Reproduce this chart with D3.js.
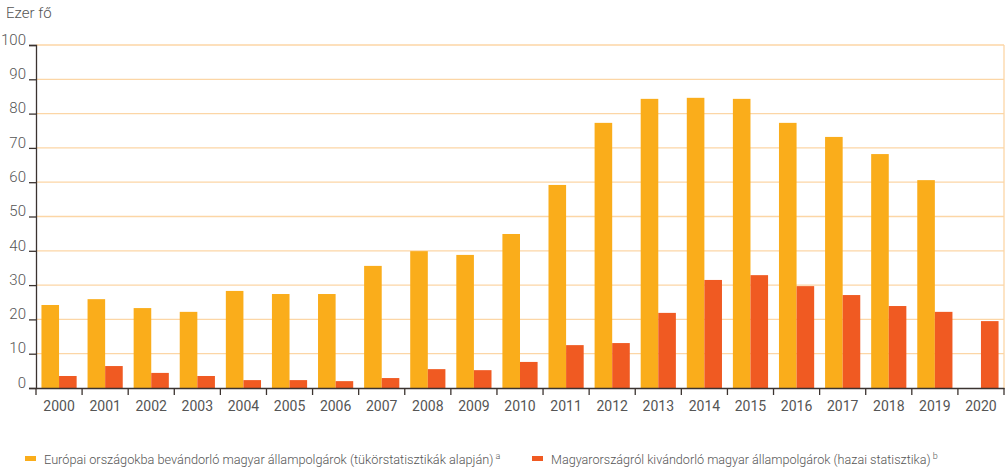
<!DOCTYPE html>
<html>
<head>
<meta charset="utf-8">
<script src="https://cdn.jsdelivr.net/npm/d3@7"></script>
<style>
  body { margin: 0; background: #fff; }
  svg text { font-family: Roboto, "DejaVu Sans Condensed", sans-serif; fill: #555; }
</style>
</head>
<body>
<svg id="chart" width="1006" height="470"></svg>
<script>
// years on the x axis
const years = ["2000","2001","2002","2003","2004","2005","2006","2007","2008","2009","2010",
               "2011","2012","2013","2014","2015","2016","2017","2018","2019","2020"];
// orange: mirror statistics (thousand people)
const europeIn = [24.2, 25.9, 23.3, 22.2, 28.3, 27.4, 27.4, 35.6, 39.9, 38.8, 44.9,
                  59.2, 77.3, 84.3, 84.6, 84.3, 77.3, 73.2, 68.2, 60.6, null];
// red: domestic statistics
const hungaryOut = [3.5, 6.4, 4.4, 3.5, 2.3, 2.3, 2.0, 2.9, 5.5, 5.2, 7.6,
                    12.5, 13.1, 21.9, 31.5, 32.9, 29.7, 27.1, 23.9, 22.2, 19.5];
const yTicks = [0, 10, 20, 30, 40, 50, 60, 70, 80, 90, 100];
const seriesNames = ["Európai országokba bevándorló magyar állampolgárok (tükörstatisztikák alapján)",
                     "Magyarországról kivándorló magyar állampolgárok (hazai statisztika)"];
const seriesNotes = ["a", "b"];
const colors = ["#faad1b", "#f05a22"];

const svg = d3.select("#chart");
const margin = {left: 36, right: 1004, top: 45, bottom: 388};

let x = d3.scaleBand().domain(years).range([margin.left, margin.right]).padding(0);
let inner = d3.scaleBand().domain([0, 1]).range([0, x.bandwidth()])
    .paddingInner(0).paddingOuter(0.31);
let y = d3.scaleLinear().domain([0, 100]).range([margin.bottom, margin.top]);

// gridlines
svg.append("g").selectAll("line")
    .data(yTicks.filter(d => d > 0))
    .enter().append("line")
    .attr("x1", margin.left).attr("x2", margin.right)
    .attr("y1", d => y(d)).attr("y2", d => y(d))
    .attr("stroke", "#fcd6a6").attr("stroke-width", 1.3);

// right border
svg.append("line")
    .attr("x1", margin.right).attr("x2", margin.right)
    .attr("y1", y(100)).attr("y2", y(0))
    .attr("stroke", "#fcd6a6").attr("stroke-width", 1.3);

// bars
let groups = svg.append("g").selectAll("g")
    .data(years)
    .enter().append("g")
    .attr("transform", d => "translate(" + x(d) + ",0)");

groups.append("rect")
    .attr("x", inner(0))
    .attr("width", inner.bandwidth())
    .attr("y", (d, i) => europeIn[i] == null ? y(0) : y(europeIn[i]))
    .attr("height", (d, i) => europeIn[i] == null ? 0 : y(0) - y(europeIn[i]))
    .attr("fill", colors[0]);

groups.append("rect")
    .attr("x", inner(1))
    .attr("width", inner.bandwidth())
    .attr("y", (d, i) => y(hungaryOut[i]))
    .attr("height", (d, i) => y(0) - y(hungaryOut[i]))
    .attr("fill", colors[1]);

// y axis
let yAxis = svg.append("g")
    .attr("transform", "translate(" + margin.left + ",0)")
    .call(d3.axisLeft(y).tickValues(yTicks).tickSize(7).tickPadding(3));
yAxis.select(".domain").attr("stroke", "#3b3330").attr("stroke-width", 1.3);
yAxis.selectAll(".tick line").attr("stroke", "#3b3330").attr("stroke-width", 1.3);
yAxis.selectAll(".tick text")
    .attr("dy", "-0.05em")
    .style("font-family", "Roboto").style("font-weight", 300)
    .style("font-size", "15px").style("fill", "#555");

// x axis: labels centred, ticks on band boundaries
let xAxis = svg.append("g")
    .attr("transform", "translate(0," + margin.bottom + ")")
    .call(d3.axisBottom(x).tickSize(0).tickPadding(13));
xAxis.select(".domain").attr("stroke", "#3b3330").attr("stroke-width", 1.5);
xAxis.selectAll(".tick text")
    .style("font-family", "Roboto")
    .style("font-size", "14px").style("fill", "#555");
xAxis.selectAll(".sep")
    .data(years.concat(["end"]))
    .enter().append("line")
    .attr("x1", d => d == "end" ? margin.right : x(d))
    .attr("x2", d => d == "end" ? margin.right : x(d))
    .attr("y1", 0).attr("y2", 7)
    .attr("stroke", "#3b3330").attr("stroke-width", 1.3);

// unit label
svg.append("text")
    .attr("x", 6).attr("y", 18)
    .style("font-size", "15px").style("font-weight", 300)
    .text("Ezer fő");

// legend - font size scaled so the label width matches the original
let legendX = [25, 532];
let legendW = [450, 380];
seriesNames.forEach(function(name, i) {
    svg.append("rect")
        .attr("x", legendX[i]).attr("y", 456)
        .attr("width", 11).attr("height", 5)
        .attr("fill", colors[i]);
    let label = svg.append("text")
        .attr("x", legendX[i] + 19).attr("y", 464)
        .style("font-size", "14px").style("font-weight", 300)
        .text(name);
    let w = label.node().getComputedTextLength();
    let fs = Math.min(14, 14 * legendW[i] / w);
    label.style("font-size", fs + "px");
    let w2 = label.node().getComputedTextLength();
    svg.append("text")
        .attr("x", legendX[i] + 19 + w2 + 2).attr("y", 459)
        .style("font-size", "9px").style("font-weight", 300)
        .text(seriesNotes[i]);
});
</script>
</body>
</html>
